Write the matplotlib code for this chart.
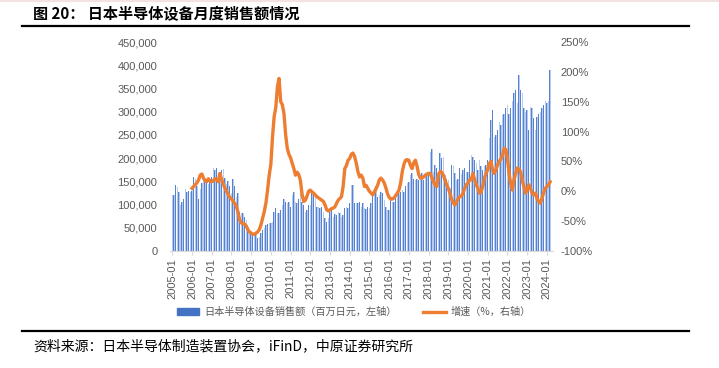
"""Japan semiconductor equipment monthly billings with YoY growth."""

import matplotlib
matplotlib.use("Agg")
import matplotlib.pyplot as plt
from matplotlib.lines import Line2D
from matplotlib.patches import Patch
from matplotlib.ticker import FuncFormatter, MultipleLocator

plt.rcParams["font.family"] = ["Liberation Sans", "Noto Sans CJK SC", "DejaVu Sans"]

TITLE = "图 20： 日本半导体设备月度销售额情况"
SOURCE = "资料来源：日本半导体制造装置协会，iFinD，中原证券研究所"
BAR_LABEL = "日本半导体设备销售额（百万日元，左轴）"
LINE_LABEL = "增速（%，右轴）"

START_YEAR = 2005
END_YEAR = 2024

# monthly sales, thousand of million yen, 2005-01 .. 2024-03
sales_k = [
    120, 121, 142, 138, 128, 100, 106, 113, 133, 126, 129, 127,  # 2005
    130, 160, 155, 139, 113, 133, 146, 153, 148, 150, 144, 150,  # 2006
    160, 178, 174, 178, 168, 164, 174, 176, 158, 145, 150, 140,  # 2007
    125, 155, 140, 117, 124, 85, 81, 82, 74, 67, 52, 45,  # 2008
    42, 38, 34, 37, 27, 31, 38, 45, 49, 56, 58, 60,  # 2009
    60, 62, 85, 93, 81, 81, 88, 98, 111, 106, 104, 105,  # 2010
    95, 120, 126, 106, 104, 113, 124, 106, 100, 83, 88, 98,  # 2011
    99, 128, 124, 117, 95, 95, 92, 95, 85, 70, 63, 70,  # 2012
    85, 88, 74, 80, 78, 83, 81, 74, 78, 92, 95, 92,  # 2013
    103, 142, 142, 103, 103, 104, 106, 95, 103, 92, 90, 95,  # 2014
    92, 103, 120, 135, 139, 117, 120, 128, 124, 110, 95, 88,  # 2015
    88, 110, 106, 106, 117, 128, 124, 128, 131, 128, 139, 146,  # 2016
    149, 164, 167, 156, 153, 156, 153, 164, 167, 153, 160, 164,  # 2017
    164, 214, 219, 171, 185, 178, 164, 210, 200, 203, 164, 156,  # 2018
    153, 135, 185, 182, 167, 153, 156, 178, 165, 174, 178, 171,  # 2019
    171, 196, 207, 203, 196, 189, 174, 196, 182, 174, 182, 185,  # 2020
    196, 243, 282, 304, 246, 250, 260, 277, 271, 293, 296, 307,  # 2021
    314, 296, 307, 322, 340, 347, 318, 379, 347, 340, 307, 300,  # 2022
    304, 260, 311, 307, 286, 260, 289, 296, 300, 307, 314, 322,  # 2023
    318, 322, 390,  # 2024
]

# YoY growth in %, 2006-01 .. 2024-03
growth_pct = [
    5, 8, 11, 14, 19, 27, 29, 22, 18, 16, 21, 17,  # 2006
    16, 18, 21, 20, 16, 30, 20, 12, 6, 0, -5, -10,  # 2007
    -13, -16, -20, -25, -35, -48, -53, -54, -55, -58, -64, -68,  # 2008
    -70, -72, -72, -70, -68, -64, -56, -45, -34, -20, 2, 27,  # 2009
    45, 90, 125, 140, 175, 189, 150, 145, 130, 95, 72, 62,  # 2010
    56, 47, 38, 27, 32, 28, 18, -5, -17, -15, -8, 0,  # 2011
    2, -1, -3, -6, -9, -11, -13, -15, -17, -23, -31, -33,  # 2012
    -31, -29, -28, -26, -20, -15, -12, -9, 8, 38, 43, 52,  # 2013
    55, 62, 64, 58, 47, 33, 24, 27, 22, 8, 10, 5,  # 2014
    0, -3, -6, -1, 4, 10, 19, 22, 19, 14, 6, -4,  # 2015
    -10, -13, -13, -11, -7, -3, 2, 14, 33, 45, 52, 53,  # 2016
    52, 43, 38, 48, 52, 42, 28, 22, 22, 24, 27, 29,  # 2017
    30, 30, 23, 16, 10, 8, 28, 33, 32, 27, 19, 11,  # 2018
    5, -3, -13, -19, -23, -18, -12, -9, -8, -3, 5, 11,  # 2019
    14, 19, 20, 30, 20, 11, 5, -3, -1, 8, 22, 30,  # 2020
    36, 47, 50, 36, 30, 36, 44, 50, 54, 60, 72, 70,  # 2021
    55, 30, 13, 2, 19, 30, 39, 37, 33, 19, 8, -3,  # 2022
    2, 11, 5, -3, -6, -3, -12, -17, -20, -12, -3, 5,  # 2023
    8, 11, 16,  # 2024
]

tick_labels = [f"{y}-01" for y in range(START_YEAR, END_YEAR + 1)]

BAR_DARK = "#5682D0"
BAR_LIGHT = "#B7CBEE"
LEGEND_BLUE = "#4472C4"
ORANGE = "#ED7D31"
TEXT_GRAY = "#595959"


def main() -> None:
    fig = plt.figure(figsize=(7.19, 3.68), dpi=100)
    W, H = 719, 368

    ax = fig.add_axes([169.8 / W, 1 - 251 / H, 382.8 / W, 209 / H])
    ax2 = ax.twinx()

    months = list(range(len(sales_k)))
    sales = [v * 1000 for v in sales_k]
    ax.bar([m - 0.2 for m in months], sales, width=0.42, color=BAR_DARK, linewidth=0)
    ax.bar([m + 0.2 for m in months], sales, width=0.42, color=BAR_LIGHT, linewidth=0)

    line_x = months[12:12 + len(growth_pct)]
    ax2.plot(line_x, growth_pct, color=ORANGE, lw=2.4, solid_joinstyle="round")

    ax.set_xlim(-1.5, 231.5)
    ax.set_ylim(0, 450000)
    ax2.set_ylim(-100, 250)
    ax.yaxis.set_major_locator(MultipleLocator(50000))
    ax2.yaxis.set_major_locator(MultipleLocator(50))
    ax.yaxis.set_major_formatter(FuncFormatter(lambda v, _: f"{int(v):,}"))
    ax2.yaxis.set_major_formatter(FuncFormatter(lambda v, _: f"{int(v)}%"))

    ax.set_xticks(list(range(0, 12 * len(tick_labels), 12)))
    ax.set_xticklabels(tick_labels, rotation=90)

    for a in (ax, ax2):
        for side in ("top", "left", "right"):
            a.spines[side].set_visible(False)
        a.spines["bottom"].set_color("#D9D9D9")
    ax2.spines["bottom"].set_visible(False)
    ax.tick_params(axis="x", length=3, color="#D9D9D9", labelsize=8, labelcolor=TEXT_GRAY, pad=2)
    ax.tick_params(axis="y", length=0, labelsize=8, labelcolor=TEXT_GRAY, pad=9)
    ax2.tick_params(axis="y", length=0, labelsize=8, labelcolor=TEXT_GRAY, pad=6)

    handles = [Patch(color=LEGEND_BLUE), Line2D([], [], color=ORANGE, lw=2.4)]
    leg = fig.legend(handles, [BAR_LABEL, LINE_LABEL], loc="center", ncol=2,
                     bbox_to_anchor=(354 / W, 1 - 312 / H), frameon=False,
                     prop={"family": "Noto Sans CJK SC", "size": 7.3},
                     handlelength=2.2, handleheight=0.6, columnspacing=2.6, handletextpad=0.5)
    for t in leg.get_texts():
        t.set_color(TEXT_GRAY)

    fig.text(33 / W, 1 - 14 / H, TITLE, fontsize=10.9, fontweight="bold",
             family=["Noto Sans CJK SC"], va="center", ha="left")
    fig.text(33 / W, 1 - 346 / H, SOURCE, fontsize=10,
             family=["Noto Sans CJK SC"], va="center", ha="left")

    fig.add_artist(Line2D([22 / W, 689 / W], [1 - 26 / H] * 2, color="black", lw=1.6))
    fig.add_artist(Line2D([22 / W, 689 / W], [1 - 331 / H] * 2, color="black", lw=1.6))
    fig.add_artist(Line2D([0, 1], [1 - 0.5 / H] * 2, color="#F2DCDB", lw=1.2))

    fig.savefig("out.png", dpi=100)
    plt.close(fig)


if __name__ == "__main__":
    main()
